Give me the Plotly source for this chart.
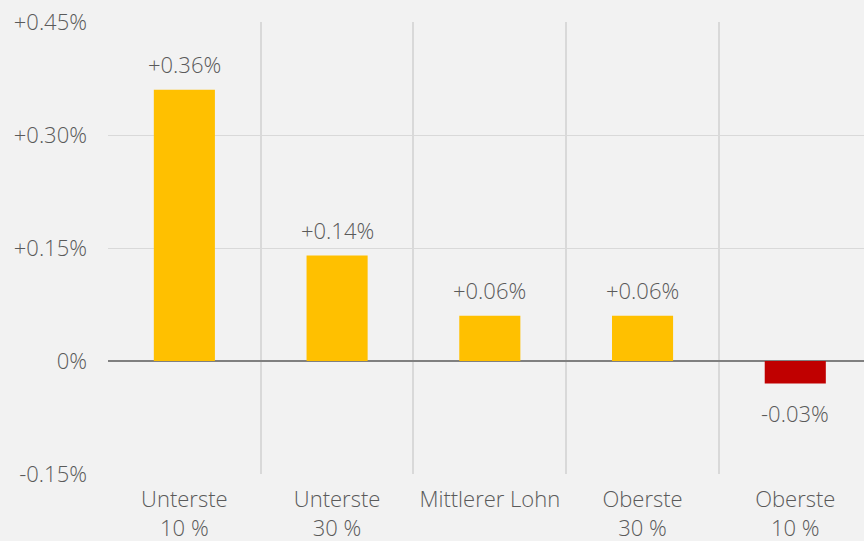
import plotly.graph_objects as go

# data
categories = ["Unterste<br>10 %", "Unterste<br>30 %", "Mittlerer Lohn", "Oberste<br>30 %", "Oberste<br>10 %"]
values = [0.36, 0.14, 0.06, 0.06, -0.03]
tick_vals = [-0.15, 0, 0.15, 0.30, 0.45]
tick_text = ["-0.15%", "0%", "+0.15%", "+0.30%", "+0.45%"]

bar_colors = ["#ffc000" if v >= 0 else "#c00000" for v in values]
labels = [("+" if v > 0 else "") + f"{v:.2f}%" for v in values]

text_color = "#5a5a5a"
font_family = "Open Sans, Roboto, Liberation Sans, Arial, sans-serif"
light = dict(size=22, color=text_color, family=font_family, weight=300)

fig = go.Figure()

fig.add_trace(go.Bar(
    x=categories,
    y=values,
    width=0.4,
    marker=dict(color=bar_colors, line=dict(width=0)),
    hoverinfo="skip",
))

# value labels above / below the bars
for cat, v, lab in zip(categories, values, labels):
    fig.add_annotation(
        x=cat, y=v, text=lab, showarrow=False,
        yanchor="bottom" if v >= 0 else "top",
        yshift=9 if v >= 0 else -12,
        font=light,
    )

fig.update_layout(
    width=864,
    height=541,
    paper_bgcolor="#f2f2f2",
    plot_bgcolor="#f2f2f2",
    margin=dict(l=108, r=0, t=22, b=67),
    showlegend=False,
    font=light,
)

fig.update_xaxes(
    type="category",
    range=[-0.5, 4.45],
    tickson="boundaries",
    showgrid=True,
    gridcolor="#d9d9d9",
    gridwidth=2,
    ticks="",
    showline=False,
    zeroline=False,
    automargin=False,
    ticklabelstandoff=10,
    tickfont=light,
)

fig.update_yaxes(
    range=[-0.15, 0.45],
    tickvals=tick_vals,
    ticktext=tick_text,
    showgrid=True,
    gridcolor="#d9d9d9",
    gridwidth=1,
    zeroline=True,
    zerolinecolor="#808080",
    zerolinewidth=2,
    showline=False,
    ticks="",
    automargin=False,
    ticklabelstandoff=20,
    tickfont=light,
)

fig.write_html("out.html", config={"displayModeBar": False},
               post_script="document.body.style.margin='0';")
